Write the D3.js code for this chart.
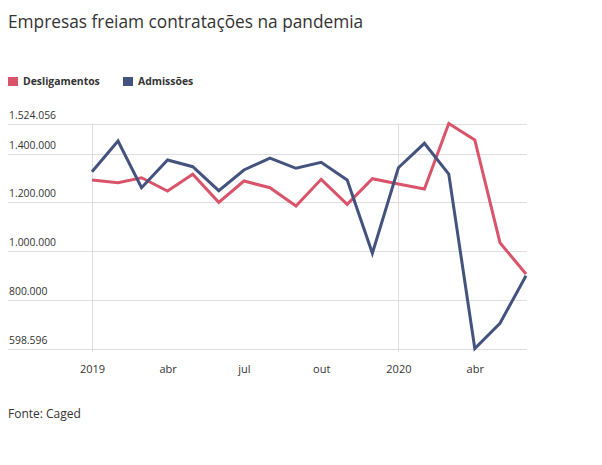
<!DOCTYPE html>
<html>
<head>
<meta charset="utf-8">
<script src="https://cdn.jsdelivr.net/npm/d3@7"></script>
<style>
body { margin: 0; background: #fff; font-family: "Open Sans", sans-serif; }
</style>
</head>
<body>
<div id="chart"></div>
<script>
// dados mensais, jan/2019 a jun/2020
var months = ['2019-01','2019-02','2019-03','2019-04','2019-05','2019-06','2019-07','2019-08','2019-09','2019-10','2019-11','2019-12',
	'2020-01','2020-02','2020-03','2020-04','2020-05','2020-06'];
var desligamentos = [1291600, 1280600, 1301100, 1246400, 1315100, 1199900, 1287500, 1260000, 1184700, 1294500, 1191700, 1297000,
	1275200, 1254600, 1524056, 1456200, 1033800, 905000];
var admissoes = [1325800, 1452000, 1260000, 1373900, 1346300, 1247600, 1332800, 1382100, 1339800, 1364400, 1291600, 990200,
	1342200, 1442600, 1316300, 598596, 702200, 898000];
var yTicks = [598596, 800000, 1000000, 1200000, 1400000, 1524056];
var xTicks = ['2019-01','2019-04','2019-07','2019-10','2020-01','2020-04'];
var xTickLabels = ['2019', 'abr', 'jul', 'out', '2020', 'abr'];
var yearLines = ['2019-01', '2020-01'];

var series = [
	{'name': 'Desligamentos', 'values': desligamentos, 'color': '#d9546a'},
	{'name': 'Admissões', 'values': admissoes, 'color': '#44527e'}
];

var parse = d3.timeParse('%Y-%m');
var fmt = function(v) { return d3.format(',')(v).replace(/,/g, '.'); };

var width = 602, height = 465;
var svg = d3.select('#chart').append('svg')
	.attr('width', width)
	.attr('height', height);

svg.append('text')
	.attr('x', 8)
	.attr('y', 28)
	.attr('fill', '#333')
	.style('font-size', '17.3px')
	.text('Empresas freiam contratações na pandemia');

// legenda
var legX = [8, 123];
series.forEach(function(s, i) {
	svg.append('rect')
		.attr('x', legX[i]).attr('y', 77)
		.attr('width', 10).attr('height', 9)
		.attr('fill', s.color);
	svg.append('text')
		.attr('x', legX[i] + 15).attr('y', 85)
		.attr('fill', '#333')
		.style('font-size', '10.4px')
		.style('font-weight', 'bold')
		.text(s.name);
});

var x = d3.scaleTime()
	.domain([parse(months[0]), parse(months[months.length - 1])])
	.range([92, 526]);

var y = d3.scaleLinear()
	.domain([598596, 1524056])
	.range([348.5, 123.5]);

// grade horizontal
var grid = svg.append('g');
grid.selectAll('line.h')
	.data(yTicks)
	.enter().append('line')
		.attr('class', 'h')
		.attr('x1', 8).attr('x2', 527)
		.attr('y1', function(d) { return Math.round(y(d)) + 0.5; })
		.attr('y2', function(d) { return Math.round(y(d)) + 0.5; })
		.attr('stroke', '#ddd')
		.attr('stroke-width', 1);

grid.selectAll('text.h')
	.data(yTicks)
	.enter().append('text')
		.attr('class', 'h')
		.attr('x', 9)
		.attr('y', function(d) { return y(d) - 5; })
		.attr('fill', '#333')
		.style('font-size', '10.4px')
		.text(fmt);

grid.selectAll('line.v')
	.data(yearLines)
	.enter().append('line')
		.attr('class', 'v')
		.attr('x1', function(d) { return Math.round(x(parse(d))) + 0.5; })
		.attr('x2', function(d) { return Math.round(x(parse(d))) + 0.5; })
		.attr('y1', 123.5).attr('y2', 352)
		.attr('stroke', '#ddd')
		.attr('stroke-width', 1);

// eixo x
var xAxis = d3.axisBottom(x)
	.tickValues(xTicks.map(parse))
	.tickSize(0)
	.tickFormat(function(d, i) { return xTickLabels[i]; });

var gx = svg.append('g')
	.attr('transform', 'translate(0,362)')
	.call(xAxis);
gx.select('.domain').remove();
gx.selectAll('text')
	.attr('fill', '#333')
	.style('font-family', '"Open Sans", sans-serif')
	.style('font-size', '11px');

var line = d3.line()
	.x(function(d, i) { return x(parse(months[i])); })
	.y(function(d) { return y(d); });

svg.selectAll('path.serie')
	.data(series)
	.enter().append('path')
		.attr('class', 'serie')
		.attr('d', function(s) { return line(s.values); })
		.attr('fill', 'none')
		.attr('stroke', function(s) { return s.color; })
		.attr('stroke-width', 3)
		.attr('stroke-linejoin', 'miter');

svg.append('text')
	.attr('x', 8)
	.attr('y', 418)
	.attr('fill', '#333')
	.style('font-size', '12px')
	.text('Fonte: Caged');
</script>
</body>
</html>
